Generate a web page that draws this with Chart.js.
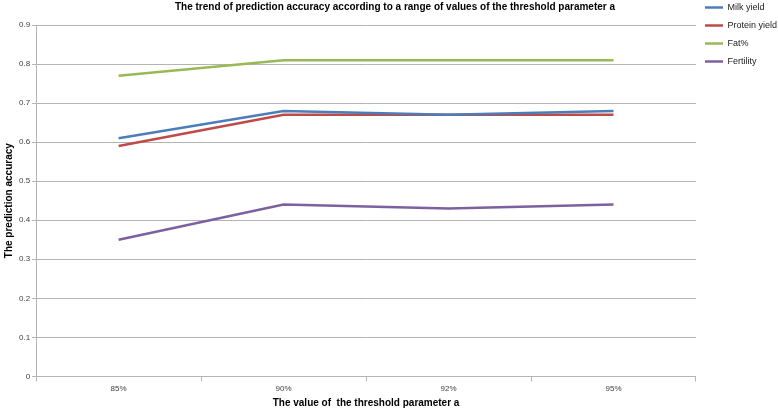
<!DOCTYPE html>
<html>
<head>
<meta charset="utf-8">
<script src="https://cdn.jsdelivr.net/npm/chart.js@4/dist/chart.umd.min.js"></script>
<style>
  html, body { margin: 0; padding: 0; background: #fff; }
  #wrap { width: 778px; height: 409px; position: relative; }
</style>
</head>
<body>
<div id="wrap"><canvas id="lineChart"></canvas></div>
<script>
// values
const thresholds = ['85%', '90%', '92%', '95%'];
const milkYield = [0.61, 0.68, 0.67, 0.68];
const proteinYield = [0.59, 0.67, 0.67, 0.67];
const fatPct = [0.77, 0.81, 0.81, 0.81];
const fertility = [0.35, 0.44, 0.43, 0.44];
const yTicks = [0, 0.1, 0.2, 0.3, 0.4, 0.5, 0.6, 0.7, 0.8, 0.9];

const FONT = "'Liberation Sans', Arial, sans-serif";
const GRID = '#b4b4b4';

function series(label, data, color) {
  return {
    label: label,
    data: data,
    borderColor: color,
    backgroundColor: color,
    borderWidth: 2.5,
    pointRadius: 0,
    tension: 0,
  };
}

const ctx = document.getElementById('lineChart').getContext('2d');
new Chart(ctx, {
  type: 'line',
  data: {
    labels: thresholds,
    datasets: [
      series('Milk yield', milkYield, '#4a7ebb'),
      series('Protein yield', proteinYield, '#be4b48'),
      series('Fat%', fatPct, '#98b954'),
      series('Fertility', fertility, '#7d60a0'),
    ],
  },
  options: {
    responsive: true,
    maintainAspectRatio: false,
    animation: false,
    layout: { padding: { top: -6, left: 3, right: -9, bottom: 0 } },
    plugins: {
      title: {
        display: true,
        text: 'The trend of prediction accuracy according to a range of values of the threshold parameter a',
        color: '#000',
        font: { family: FONT, size: 10, weight: 'bold' },
        padding: { top: 7, bottom: 12 },
      },
      legend: {
        position: 'right',
        align: 'start',
        labels: {
          usePointStyle: true,
          pointStyle: 'line',
          pointStyleWidth: 18,
          color: '#222',
          font: { family: FONT, size: 9 },
          padding: 9,
        },
      },
      tooltip: { enabled: false },
    },
    scales: {
      x: {
        offset: true,
        grid: {
          offset: true,
          drawOnChartArea: false,
          drawTicks: true,
          tickLength: 5,
          color: GRID,
        },
        border: { color: GRID },
        ticks: { color: '#404040', font: { family: FONT, size: 8 }, padding: 3 },
        title: {
          display: true,
          text: 'The value of  the threshold parameter a',
          color: '#000',
          font: { family: FONT, size: 10, weight: 'bold' },
          padding: { top: 0, bottom: 0 },
        },
      },
      y: {
        min: 0,
        max: 0.9,
        afterBuildTicks: axis => {
          axis.ticks = yTicks.map(v => ({ value: v }));
        },
        grid: { color: GRID, tickLength: 4, lineWidth: 1 },
        border: { color: GRID },
        ticks: {
          color: '#404040',
          font: { family: FONT, size: 8 },
          padding: 2,
          callback: v => String(Math.round(v * 10) / 10),
        },
        title: {
          display: true,
          text: 'The prediction accuracy',
          color: '#000',
          font: { family: FONT, size: 10, weight: 'bold' },
          padding: { top: 0, bottom: 2 },
        },
      },
    },
  },
});
</script>
</body>
</html>
